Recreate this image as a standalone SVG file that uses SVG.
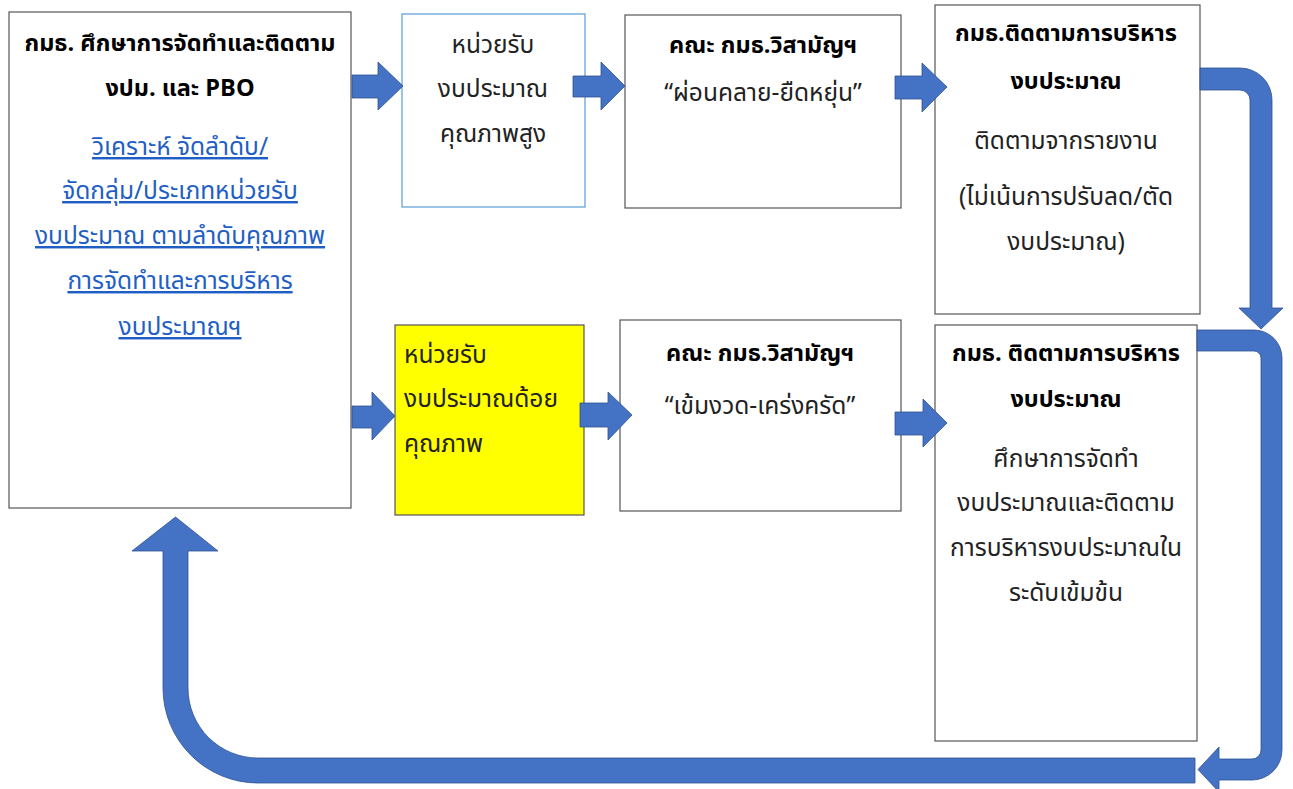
<svg xmlns="http://www.w3.org/2000/svg" width="1293" height="789" viewBox="0 0 1293 789">
<style>
.box{fill:#fff;stroke:#555;stroke-width:1.2}
.t{font-family:"Noto Sans Thai","Leelawadee UI","Noto Sans","DejaVu Sans",sans-serif;font-size:24.5px;fill:#222;text-anchor:middle}
.b{font-weight:bold;fill:#000;font-size:23.5px}
.l{fill:#1f5fc5;text-decoration:underline}
.s{text-anchor:start}
.arr{fill:#4472c4;stroke:#2f528f;stroke-width:0.8}
</style>
<rect width="1293" height="789" fill="#fff"/>
<g id="n1">
<rect class="box" x="9" y="12" width="342" height="496"/>
<text class="t b" x="180" y="51">กมธ. ศึกษาการจัดทำและติดตาม</text>
<text class="t b" x="180" y="96">งปม. และ PBO</text>
<text class="t l" x="180" y="155">วิเคราะห์ จัดลำดับ/</text>
<text class="t l" x="180" y="199">จัดกลุ่ม/ประเภทหน่วยรับ</text>
<text class="t l" x="180" y="244">งบประมาณ ตามลำดับคุณภาพ</text>
<text class="t l" x="180" y="289">การจัดทำและการบริหาร</text>
<text class="t l" x="180" y="335">งบประมาณฯ</text>
</g>
<g id="n2">
<rect x="402" y="14" width="183" height="193" fill="#fff" stroke="#5b9bd5" stroke-width="1.2"/>
<text class="t" x="493" y="53">หน่วยรับ</text>
<text class="t" x="493" y="97">งบประมาณ</text>
<text class="t" x="493" y="142">คุณภาพสูง</text>
</g>
<g id="n3">
<rect class="box" x="625" y="15" width="276" height="193"/>
<text class="t b" x="763" y="53">คณะ กมธ.วิสามัญฯ</text>
<text class="t" x="763" y="101">“ผ่อนคลาย-ยืดหยุ่น”</text>
</g>
<g id="n4">
<rect class="box" x="935" y="5" width="265" height="309"/>
<text class="t b" x="1066" y="41">กมธ.ติดตามการบริหาร</text>
<text class="t b" x="1066" y="89">งบประมาณ</text>
<text class="t" x="1066" y="149">ติดตามจากรายงาน</text>
<text class="t" x="1066" y="205">(ไม่เน้นการปรับลด/ตัด</text>
<text class="t" x="1066" y="250">งบประมาณ)</text>
</g>
<g id="n5">
<rect x="395" y="325" width="189" height="190" fill="#ffff00" stroke="#555" stroke-width="1.2"/>
<text class="t s" x="404" y="363">หน่วยรับ</text>
<text class="t s" x="404" y="407">งบประมาณด้อย</text>
<text class="t s" x="404" y="452">คุณภาพ</text>
</g>
<g id="n6">
<rect class="box" x="620" y="320" width="281" height="191"/>
<text class="t b" x="760" y="361">คณะ กมธ.วิสามัญฯ</text>
<text class="t" x="760" y="414">“เข้มงวด-เคร่งครัด”</text>
</g>
<g id="n7">
<rect class="box" x="935" y="325" width="262" height="416"/>
<text class="t b" x="1066" y="361">กมธ. ติดตามการบริหาร</text>
<text class="t b" x="1066" y="407">งบประมาณ</text>
<text class="t" x="1066" y="467">ศึกษาการจัดทำ</text>
<text class="t" x="1066" y="511">งบประมาณและติดตาม</text>
<text class="t" x="1066" y="556">การบริหารงบประมาณใน</text>
<text class="t" x="1066" y="601">ระดับเข้มข้น</text>
</g>
<g id="connectors">
<polygon class="arr" points="352,75 378,75 378,62 403,86 378,110 378,98 352,98"/>
<polygon class="arr" points="573,76 601,76 601,62 625,86 601,110 601,97 573,97"/>
<polygon class="arr" points="895,76 922,76 922,63 947,87 922,112 922,99 895,99"/>
<polygon class="arr" points="352,406 372,406 372,392 395,416 372,440 372,428 352,428"/>
<polygon class="arr" points="580,403 608,403 608,392 632,415 608,440 608,427 580,427"/>
<polygon class="arr" points="895,412 923,412 923,399 947,423 923,447 923,435 895,435"/>
<path class="arr" d="M1200,68 H1240 A32,32 0 0 1 1272,100 V308 H1283 L1261,329 L1239,308 H1250 V100 A10,10 0 0 0 1240,90 H1200 Z"/>
<path class="arr" d="M1195,758 H258 A70,70 0 0 1 188,688 V551 H218 L175.5,517 L132,551 H163 V688 A95,95 0 0 0 258,783 H1195 Z"/>
<path class="arr" d="M1197,330 H1254 A28,28 0 0 1 1282,358 V750 A30,30 0 0 1 1252,780 H1219 V792 L1198,769.5 L1219,747 V759 H1252 A9,9 0 0 0 1261,750 V358 A7,7 0 0 0 1254,351 H1197 Z"/>
</g>
</svg>
